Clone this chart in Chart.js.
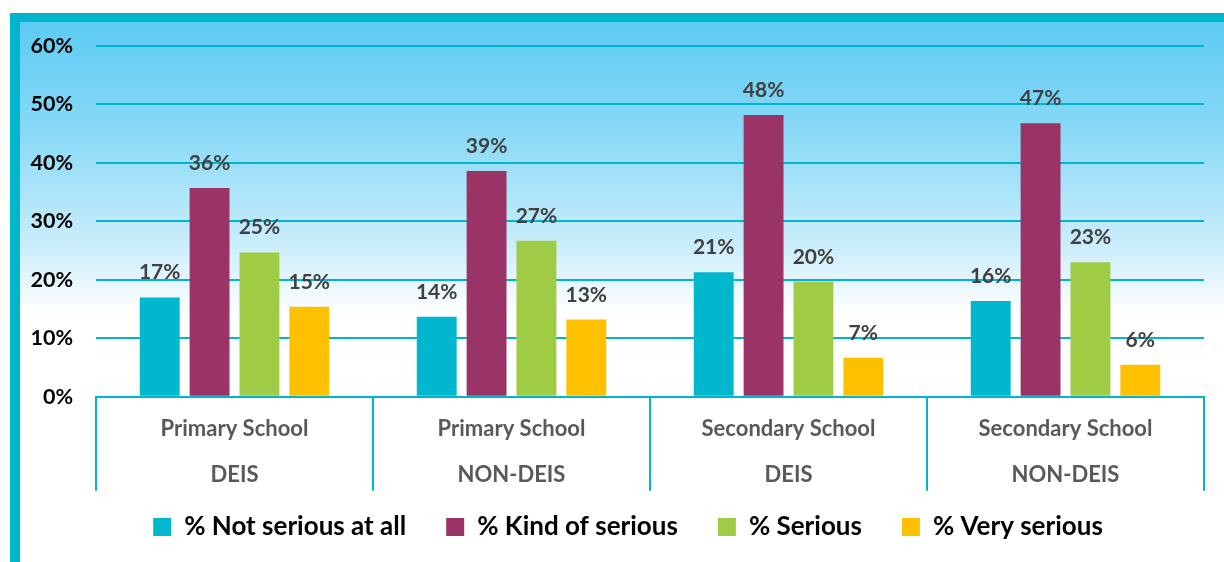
<!DOCTYPE html>
<html>
<head>
<meta charset="utf-8">
<script src="https://cdn.jsdelivr.net/npm/chart.js@4/dist/chart.umd.min.js"></script>
<style>
    html, body { margin: 0; padding: 0; background: #ffffff; }
    body { width: 1224px; height: 562px; position: relative; overflow: hidden; }
    #frame {
        position: absolute; left: 10px; top: 13px; width: 1204px; height: 540px;
        border-left: 10px solid #00B5CC; border-top: 9px solid #00B5CC;
        background: linear-gradient(to bottom, #5DCBF3 0%, #88D9F6 20%, #CDEEFB 42%, #FFFFFF 54%, #FFFFFF 100%);
    }
    #chartBox { position: absolute; left: 0; top: 0; width: 1204px; height: 540px; }
</style>
</head>
<body>
<div id="frame"><div id="chartBox"><canvas id="seriousChart"></canvas></div></div>
<script>
// categories: school type / DEIS status
const schoolTypes = ['Primary School', 'Primary School', 'Secondary School', 'Secondary School'];
const deisStatus = ['DEIS', 'NON-DEIS', 'DEIS', 'NON-DEIS'];

const seriesNames = ['% Not serious at all', '% Kind of serious', '% Serious', '% Very serious'];
const seriesColors = ['#00B7CE', '#9A3366', '#A0CB45', '#FFC000'];

// values in percent
const notSerious = [17.0, 13.7, 21.3, 16.4];
const kindOfSerious = [35.7, 38.6, 48.2, 46.8];
const serious = [24.7, 26.7, 19.7, 23.0];
const verySerious = [15.4, 13.2, 6.7, 5.5];

const yTicks = [0, 10, 20, 30, 40, 50, 60];

const teal = '#00B5CC';
const fontFamily = "Lato, 'Open Sans', sans-serif";

// value labels above each bar
const barLabels = {
    id: 'barLabels',
    afterDatasetsDraw(chart) {
        const ctx = chart.ctx;
        ctx.save();
        ctx.font = `bold 21px ${fontFamily}`;
        ctx.fillStyle = '#404040';
        ctx.textAlign = 'center';
        ctx.textBaseline = 'alphabetic';
        chart.data.datasets.forEach((ds, i) => {
            const meta = chart.getDatasetMeta(i);
            meta.data.forEach((bar, j) => {
                ctx.fillText(Math.round(ds.data[j]) + '%', bar.x, bar.y - 18);
            });
        });
        ctx.restore();
    }
};

// vertical separators between the categories, below the axis
const categorySeparators = {
    id: 'categorySeparators',
    afterDraw(chart) {
        const xs = chart.scales.x;
        const n = chart.data.labels.length;
        const step = (xs.right - xs.left) / n;
        const ctx = chart.ctx;
        ctx.save();
        ctx.strokeStyle = teal;
        ctx.lineWidth = 2;
        for (let i = 0; i <= n; i++) {
            const x = Math.round(xs.left + i * step);
            ctx.beginPath();
            ctx.moveTo(x, xs.top);
            ctx.lineTo(x, xs.top + 94);
            ctx.stroke();
        }
        ctx.restore();
    }
};

// nudge the legend box: a bit up and centred like the original
const legendShift = {
    id: 'legendShift',
    afterLayout(chart) {
        const lg = chart.legend;
        lg.left += 32;
        lg.top -= 25;
        lg.bottom -= 25;
    }
};

const labels = schoolTypes.map((s, i) => [s, deisStatus[i]]);
const allSeries = [notSerious, kindOfSerious, serious, verySerious];

new Chart(document.getElementById('seriousChart').getContext('2d'), {
    type: 'bar',
    data: {
        labels: labels,
        datasets: allSeries.map((vals, i) => ({
            label: seriesNames[i],
            data: vals,
            backgroundColor: seriesColors[i],
            categoryPercentage: 0.72,
            barPercentage: 0.8
        }))
    },
    options: {
        responsive: true,
        maintainAspectRatio: false,
        animation: false,
        layout: { padding: { top: 24, left: 0, right: 20, bottom: -13 } },
        plugins: {
            legend: {
                position: 'bottom',
                labels: {
                    boxWidth: 18,
                    boxHeight: 18,
                    padding: 40,
                    color: '#000000',
                    font: { family: fontFamily, size: 26, weight: 'bold' }
                }
            },
            tooltip: { enabled: false }
        },
        scales: {
            y: {
                min: 0,
                max: 60,
                afterBuildTicks: (scale) => { scale.ticks = yTicks.map(v => ({ value: v })); },
                afterFit: (scale) => { scale.width = 76; scale.paddingTop = 0; scale.paddingBottom = 0; },
                border: { display: false },
                grid: { color: teal, lineWidth: 2, drawTicks: false },
                ticks: {
                    padding: 23,
                    color: '#000000',
                    font: { family: fontFamily, size: 21.5, weight: 'bold' },
                    callback: (v) => v + '%'
                }
            },
            x: {
                border: { display: true, color: teal, width: 2 },
                grid: { display: false },
                ticks: {
                    padding: 2,
                    maxRotation: 0,
                    color: '#595959',
                    font: { family: fontFamily, size: 22, weight: 'bold', lineHeight: 2.05 }
                }
            }
        }
    },
    plugins: [barLabels, categorySeparators, legendShift]
});
</script>
</body>
</html>
